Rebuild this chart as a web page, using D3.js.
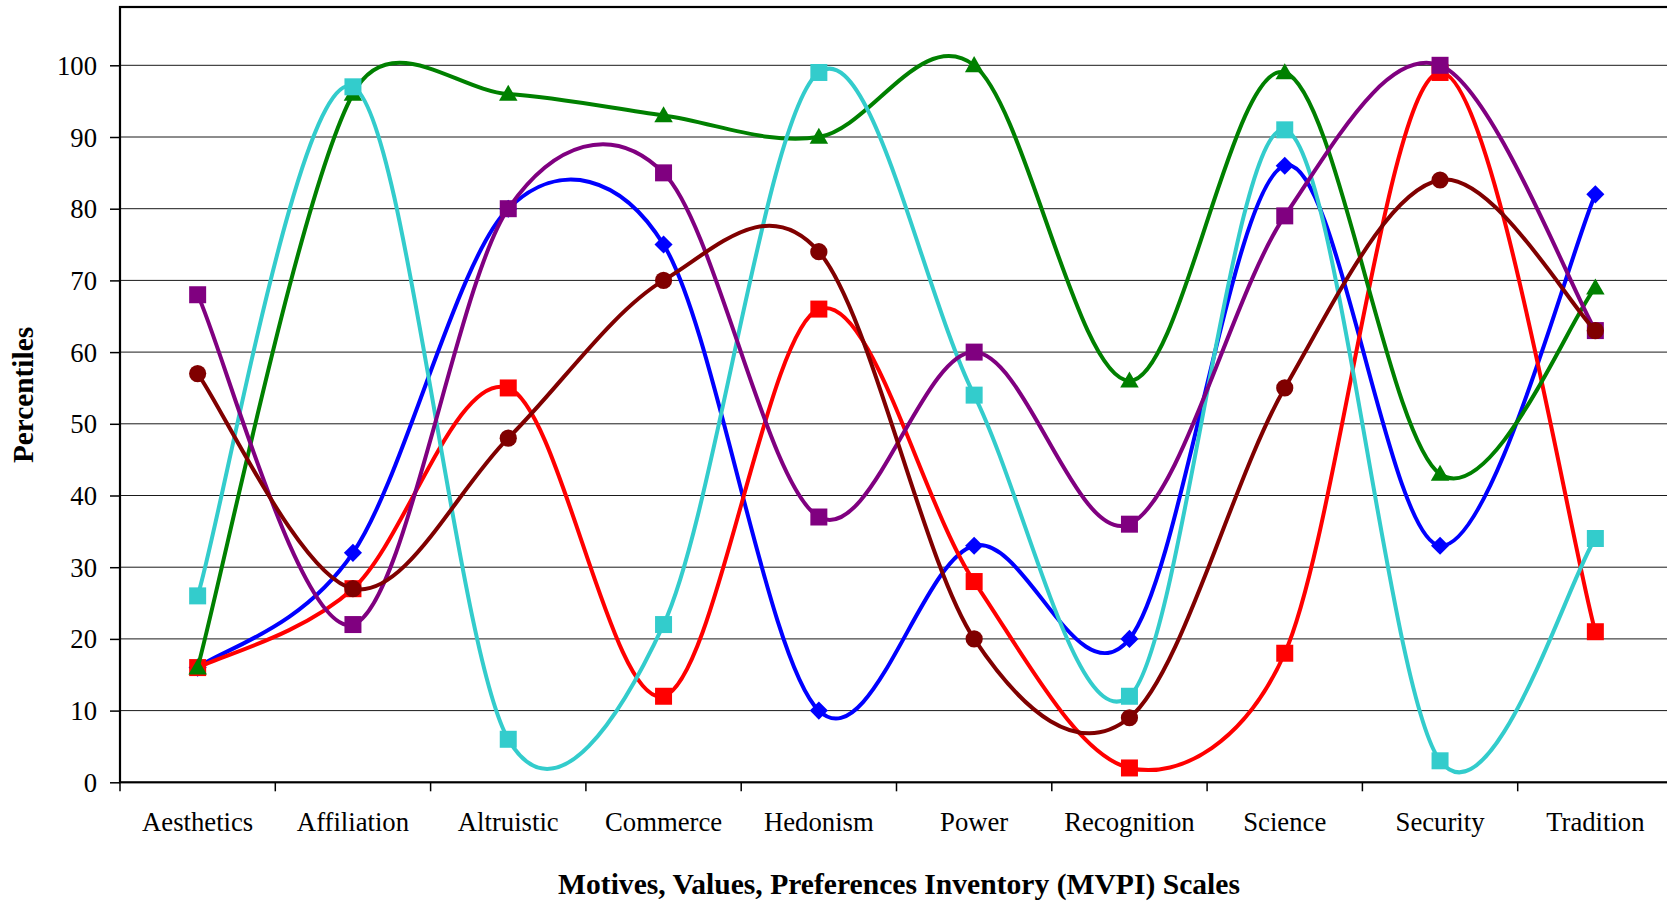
<!DOCTYPE html>
<html>
<head>
<meta charset="utf-8">
<script src="https://cdn.jsdelivr.net/npm/d3@7"></script>
<style>
  html, body { margin: 0; padding: 0; background: #fff; }
  svg { display: block; }
  text { font-family: 'Liberation Serif', 'Times New Roman', serif; fill: #000; }
</style>
</head>
<body>
<div id="chart"></div>
<script>
// MVPI percentile profile, Excel-style smoothed lines

const categories = ['Aesthetics', 'Affiliation', 'Altruistic', 'Commerce', 'Hedonism',
                    'Power', 'Recognition', 'Science', 'Security', 'Tradition'];
const yTicks = [0, 10, 20, 30, 40, 50, 60, 70, 80, 90, 100];

const blueValues    = [16, 32, 80, 75, 10, 33, 20, 86, 33, 82];
const redValues     = [16, 27, 55, 12, 66, 28,  2, 18, 99, 21];
const greenValues   = [16, 96, 96, 93, 90, 100, 56, 99, 43, 69];
const cyanValues    = [26, 97,  6, 22, 99, 54, 12, 91,  3, 34];
const purpleValues  = [68, 22, 80, 85, 37, 60, 36, 79, 100, 63];
const maroonValues  = [57, 27, 48, 70, 74, 20,  9, 55, 84, 63];

const series = [
  { key: 'blue',   color: '#0000ff', marker: 'diamond',  values: blueValues },
  { key: 'red',    color: '#ff0000', marker: 'square',   values: redValues },
  { key: 'green',  color: '#008000', marker: 'triangle', values: greenValues },
  { key: 'cyan',   color: '#33cccc', marker: 'square',   values: cyanValues },
  { key: 'purple', color: '#800080', marker: 'square',   values: purpleValues },
  { key: 'maroon', color: '#800000', marker: 'circle',   values: maroonValues }
];

const W = 1667, H = 902;
const plot = { left: 120, right: 1673, top: 7, bottom: 782.3 };

const svg = d3.select('#chart').append('svg')
  .attr('width', W).attr('height', H);

const x = d3.scaleBand().domain(categories).range([plot.left, plot.right]).padding(0);
const y = d3.scaleLinear().domain([0, 100]).range([plot.bottom, 65.3]);
const cx = c => x(c) + x.bandwidth() / 2;

// Excel smoothing: cardinal-like bezier, control arm capped at half the segment
function ExcelSmooth(context) { this._context = context; }
ExcelSmooth.prototype = {
  areaStart() {}, areaEnd() {},
  lineStart() { this._pts = []; },
  point(px, py) { this._pts.push([+px, +py]); },
  lineEnd() {
    const p = this._pts, c = this._context, n = p.length;
    if (!n) return;
    const dist = (a, b) => Math.hypot(b[0] - a[0], b[1] - a[1]);
    c.moveTo(p[0][0], p[0][1]);
    for (let i = 0; i < n - 1; i++) {
      const p0 = p[Math.max(i - 1, 0)], p1 = p[i], p2 = p[i + 1], p3 = p[Math.min(i + 2, n - 1)];
      const d12 = dist(p1, p2), d02 = dist(p0, p2), d13 = dist(p1, p3);
      const f1 = d02 / 6 > d12 / 2 ? d12 / (2 * d02) : 1 / 6;
      const f2 = d13 / 6 > d12 / 2 ? d12 / (2 * d13) : 1 / 6;
      c.bezierCurveTo(
        p1[0] + (p2[0] - p0[0]) * f1, p1[1] + (p2[1] - p0[1]) * f1,
        p2[0] - (p3[0] - p1[0]) * f2, p2[1] - (p3[1] - p1[1]) * f2,
        p2[0], p2[1]);
    }
  }
};
const curveExcel = ctx => new ExcelSmooth(ctx);

// gridlines
svg.append('g').selectAll('line')
  .data(yTicks.filter(d => d > 0)).enter().append('line')
  .attr('x1', plot.left).attr('x2', plot.right)
  .attr('y1', d => y(d)).attr('y2', d => y(d))
  .attr('stroke', '#1a1a1a').attr('stroke-width', 1);

// y axis
const yAxis = svg.append('g')
  .attr('transform', `translate(${plot.left},0)`)
  .call(d3.axisLeft(y).tickValues(yTicks).tickSize(10).tickPadding(13));
yAxis.select('.domain').remove();
yAxis.selectAll('.tick line').attr('stroke', '#000').attr('stroke-width', 1.5);
yAxis.selectAll('.tick text')
  .attr('font-family', "'Liberation Serif', 'Times New Roman', serif")
  .attr('font-size', 26.7).attr('fill', '#000').attr('dy', '0.34em');

// x axis labels at band centres
const xAxis = svg.append('g')
  .attr('transform', `translate(0,${plot.bottom})`)
  .call(d3.axisBottom(x).tickSize(0).tickPadding(30));
xAxis.select('.domain').remove();
xAxis.selectAll('.tick text')
  .attr('font-family', "'Liberation Serif', 'Times New Roman', serif")
  .attr('font-size', 26.7).attr('fill', '#000');

// tick marks at band boundaries
const bounds = categories.map(c => x(c)).concat([plot.right]);
svg.append('g').selectAll('line')
  .data(bounds).enter().append('line')
  .attr('x1', d => d).attr('x2', d => d)
  .attr('y1', plot.bottom).attr('y2', plot.bottom + 9)
  .attr('stroke', '#000').attr('stroke-width', 1.5);

// plot frame
svg.append('rect')
  .attr('x', plot.left).attr('y', plot.top)
  .attr('width', plot.right - plot.left).attr('height', plot.bottom - plot.top)
  .attr('fill', 'none').attr('stroke', '#000').attr('stroke-width', 2.2);

// series
const line = d3.line()
  .x((d, i) => cx(categories[i]))
  .y(d => y(d))
  .curve(curveExcel);

const symbols = {
  square:   { type: d3.symbolSquare,   size: 17 * 17, rot: 0 },
  diamond:  { type: d3.symbolSquare,   size: 12.8 * 12.8, rot: 45 },
  triangle: { type: d3.symbolTriangle, size: 0.433 * 18.5 * 18.5, rot: 0 },
  circle:   { type: d3.symbolCircle,   size: Math.PI * 8.6 * 8.6, rot: 0 }
};

series.forEach(s => {
  const g = svg.append('g').attr('class', 'series-' + s.key);
  g.append('path')
    .datum(s.values)
    .attr('d', line)
    .attr('fill', 'none')
    .attr('stroke', s.color)
    .attr('stroke-width', 4)
    .attr('stroke-linejoin', 'round');
  const sym = symbols[s.marker];
  g.selectAll('path.mk')
    .data(s.values).enter().append('path')
    .attr('class', 'mk')
    .attr('d', d3.symbol().type(sym.type).size(sym.size))
    .attr('transform', (d, i) => `translate(${cx(categories[i])},${y(d) + (s.marker === 'triangle' ? 1.5 : 0)}) rotate(${sym.rot})`)
    .attr('fill', s.color);
});

// axis titles
svg.append('text')
  .attr('x', 899).attr('y', 894)
  .attr('text-anchor', 'middle')
  .attr('font-size', 29.6).attr('font-weight', 'bold')
  .text('Motives, Values, Preferences Inventory (MVPI) Scales');

svg.append('text')
  .attr('transform', 'translate(33,395) rotate(-90)')
  .attr('text-anchor', 'middle')
  .attr('font-size', 29.3).attr('font-weight', 'bold')
  .text('Percentiles');
</script>
</body>
</html>
